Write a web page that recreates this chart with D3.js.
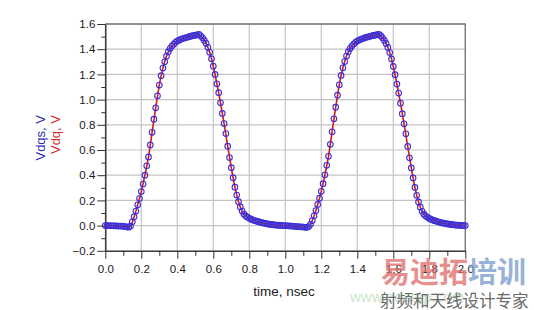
<!DOCTYPE html>
<html>
<head>
<meta charset="utf-8">
<script src="https://cdn.jsdelivr.net/npm/d3@7"></script>
<style>
  body { margin: 0; background: #fff; }
  svg { display: block; font-family: "Liberation Sans", Arial, sans-serif; }
</style>
</head>
<body>
<svg id="chart" width="534" height="310"></svg>
<script>
// time step of the simulated samples, nsec
var vdqsStep = 0.01;
var vdqStep = 0.02;

// Vdqs, V  (blue circles), one value per 0.01 ns from 0.0 to 2.0
var vdqs = [
  0.000, 0.000, 0.000, -0.001, -0.001, -0.002, -0.002, -0.003, -0.003, -0.004,
  -0.005, -0.007, -0.010, -0.013, -0.004, 0.030, 0.070, 0.115, 0.165, 0.215,
  0.270, 0.330, 0.400, 0.475, 0.545, 0.640, 0.740, 0.845, 0.935, 1.030,
  1.115, 1.190, 1.250, 1.300, 1.345, 1.380, 1.405, 1.425, 1.440, 1.455,
  1.465, 1.472, 1.478, 1.484, 1.489, 1.493, 1.497, 1.501, 1.505, 1.508,
  1.511, 1.514, 1.517, 1.506, 1.490, 1.470, 1.447, 1.415, 1.375, 1.325,
  1.265, 1.200, 1.125, 1.055, 0.975, 0.890, 0.810, 0.730, 0.630, 0.540,
  0.460, 0.380, 0.305, 0.243, 0.190, 0.148, 0.115, 0.092, 0.077, 0.067,
  0.058, 0.051, 0.045, 0.040, 0.035, 0.031, 0.027, 0.023, 0.020, 0.017,
  0.014, 0.011, 0.009, 0.007, 0.005, 0.004, 0.003, 0.002, 0.001, 0.000,
  0.000, -0.001, -0.002, -0.003, -0.004, -0.005, -0.007, -0.008, -0.009, -0.010,
  -0.011, -0.013, -0.014, -0.008, 0.010, 0.040, 0.078, 0.120, 0.168, 0.218,
  0.272, 0.333, 0.403, 0.478, 0.550, 0.645, 0.745, 0.848, 0.940, 1.035,
  1.118, 1.192, 1.252, 1.302, 1.346, 1.380, 1.405, 1.425, 1.441, 1.455,
  1.465, 1.473, 1.479, 1.485, 1.490, 1.494, 1.498, 1.502, 1.506, 1.509,
  1.512, 1.515, 1.518, 1.507, 1.491, 1.470, 1.446, 1.414, 1.374, 1.323,
  1.263, 1.198, 1.123, 1.052, 0.972, 0.888, 0.808, 0.728, 0.628, 0.538,
  0.458, 0.378, 0.303, 0.241, 0.188, 0.146, 0.114, 0.091, 0.076, 0.066,
  0.057, 0.050, 0.044, 0.039, 0.034, 0.030, 0.026, 0.022, 0.019, 0.016,
  0.013, 0.011, 0.009, 0.007, 0.005, 0.004, 0.003, 0.002, 0.001, 0.001,
  0.000
];

// Vdq, V  (red line), one value per 0.02 ns
var vdq = [
  0.000, 0.000, -0.001, -0.002, -0.003, -0.005, -0.010, -0.004, 0.070, 0.165,
  0.270, 0.400, 0.545, 0.740, 0.935, 1.115, 1.250, 1.345, 1.405, 1.440,
  1.465, 1.478, 1.489, 1.497, 1.505, 1.511, 1.517, 1.490, 1.447, 1.375,
  1.265, 1.125, 0.975, 0.810, 0.630, 0.460, 0.305, 0.190, 0.115, 0.077,
  0.058, 0.045, 0.035, 0.027, 0.020, 0.014, 0.009, 0.005, 0.003, 0.001,
  0.000, -0.002, -0.004, -0.007, -0.009, -0.011, -0.014, 0.010, 0.078, 0.168,
  0.272, 0.403, 0.550, 0.745, 0.940, 1.118, 1.252, 1.346, 1.405, 1.441,
  1.465, 1.479, 1.490, 1.498, 1.506, 1.512, 1.518, 1.491, 1.446, 1.374,
  1.263, 1.123, 0.972, 0.808, 0.628, 0.458, 0.303, 0.188, 0.114, 0.076,
  0.057, 0.044, 0.034, 0.026, 0.019, 0.013, 0.009, 0.005, 0.003, 0.001,
  0.000
];

var xTicks = [0.0, 0.2, 0.4, 0.6, 0.8, 1.0, 1.2, 1.4, 1.6, 1.8, 2.0];
var xMinor = [0.1, 0.3, 0.5, 0.7, 0.9, 1.1, 1.3, 1.5, 1.7, 1.9];
var yTicks = [-0.2, 0.0, 0.2, 0.4, 0.6, 0.8, 1.0, 1.2, 1.4, 1.6];
var yMinor = [-0.1, 0.1, 0.3, 0.5, 0.7, 0.9, 1.1, 1.3, 1.5];

var svg = d3.select("#chart");
var pLeft = 105.3, pRight = 465.3, pTop = 24, pBottom = 250.8;

var x = d3.scaleLinear().domain([0, 2]).range([pLeft, pRight]);
var y = d3.scaleLinear().domain([-0.2, 1.6]).range([pBottom, pTop]);

// grid
svg.append("g").selectAll("line").data(xTicks).join("line")
    .attr("x1", function(d) { return x(d); }).attr("x2", function(d) { return x(d); })
    .attr("y1", pTop).attr("y2", pBottom)
    .attr("stroke", "#c4c4c4").attr("stroke-width", 1.2);
svg.append("g").selectAll("line").data(yTicks).join("line")
    .attr("y1", function(d) { return y(d); }).attr("y2", function(d) { return y(d); })
    .attr("x1", pLeft).attr("x2", pRight)
    .attr("stroke", "#c4c4c4").attr("stroke-width", 1.2);

// frame top / right
svg.append("path")
    .attr("d", "M" + pLeft + "," + pTop + "H" + pRight + "V" + pBottom)
    .attr("fill", "none").attr("stroke", "#777").attr("stroke-width", 1.3);

var fmt = d3.format(".1f");

function styleAxis(g) {
    g.selectAll("path, line").attr("stroke", "#333");
    g.selectAll("text").attr("fill", "#1a1a1a").style("font-size", "11.5px");
}

svg.append("g").attr("transform", "translate(0," + pBottom + ")")
    .call(d3.axisBottom(x).tickValues(xMinor).tickSize(5).tickFormat("").tickSizeOuter(0))
    .call(styleAxis);
svg.append("g").attr("transform", "translate(0," + pBottom + ")")
    .call(d3.axisBottom(x).tickValues(xTicks).tickSize(8).tickPadding(6).tickFormat(fmt).tickSizeOuter(0))
    .call(styleAxis);

svg.append("g").attr("transform", "translate(" + pLeft + ",0)")
    .call(d3.axisLeft(y).tickValues(yMinor).tickSize(4).tickFormat("").tickSizeOuter(0))
    .call(styleAxis);
svg.append("g").attr("transform", "translate(" + pLeft + ",0)")
    .call(d3.axisLeft(y).tickValues(yTicks).tickSize(8).tickPadding(2).tickFormat(fmt).tickSizeOuter(0))
    .call(styleAxis);

// red line
var line = d3.line()
    .x(function(d, i) { return x(i * vdqStep); })
    .y(function(d) { return y(d); })
    .curve(d3.curveMonotoneX);
svg.append("path").datum(vdq)
    .attr("d", line)
    .attr("fill", "none").attr("stroke", "#d81818").attr("stroke-width", 1.6);

// blue circles
svg.append("g").selectAll("circle").data(vdqs).join("circle")
    .attr("cx", function(d, i) { return x(i * vdqsStep); })
    .attr("cy", function(d) { return y(d); })
    .attr("r", 2.8)
    .attr("fill", "none").attr("stroke", "#3b2fd6").attr("stroke-width", 1.1);

// axis titles
svg.append("text")
    .attr("x", 284).attr("y", 296).attr("text-anchor", "middle")
    .style("font-size", "13.5px").attr("fill", "#222")
    .text("time, nsec");
svg.append("text")
    .attr("transform", "translate(45,115) rotate(-90)")
    .attr("text-anchor", "end")
    .style("font-size", "13px").attr("fill", "#2a2ab8")
    .text("Vdqs, V");
svg.append("text")
    .attr("transform", "translate(59.5,115) rotate(-90)")
    .attr("text-anchor", "end")
    .style("font-size", "13px").attr("fill", "#d42a2a")
    .text("Vdq, V");

// watermark
var wm = svg.append("g").attr("font-family", "'Noto Sans CJK SC', sans-serif");
wm.append("text").attr("x", 350).attr("y", 302)
    .style("font-size", "15px").attr("fill", "#a8d8a8").attr("opacity", 0.6)
    .attr("font-family", "'Liberation Sans', Arial, sans-serif")
    .text("www.edatop.com");
wm.append("text").attr("x", 381).attr("y", 283)
    .style("font-size", "29px").style("font-weight", "bold")
    .attr("fill", "#e06a6a").attr("opacity", 0.75)
    .text("易迪拓");
wm.append("text").attr("x", 468).attr("y", 283)
    .style("font-size", "29px").style("font-weight", "bold")
    .attr("fill", "#7f9fd0").attr("opacity", 0.8)
    .text("培训");
wm.append("text").attr("x", 380).attr("y", 307)
    .style("font-size", "16.5px").attr("fill", "#6a6a6a")
    .text("射频和天线设计专家");
</script>
</body>
</html>
